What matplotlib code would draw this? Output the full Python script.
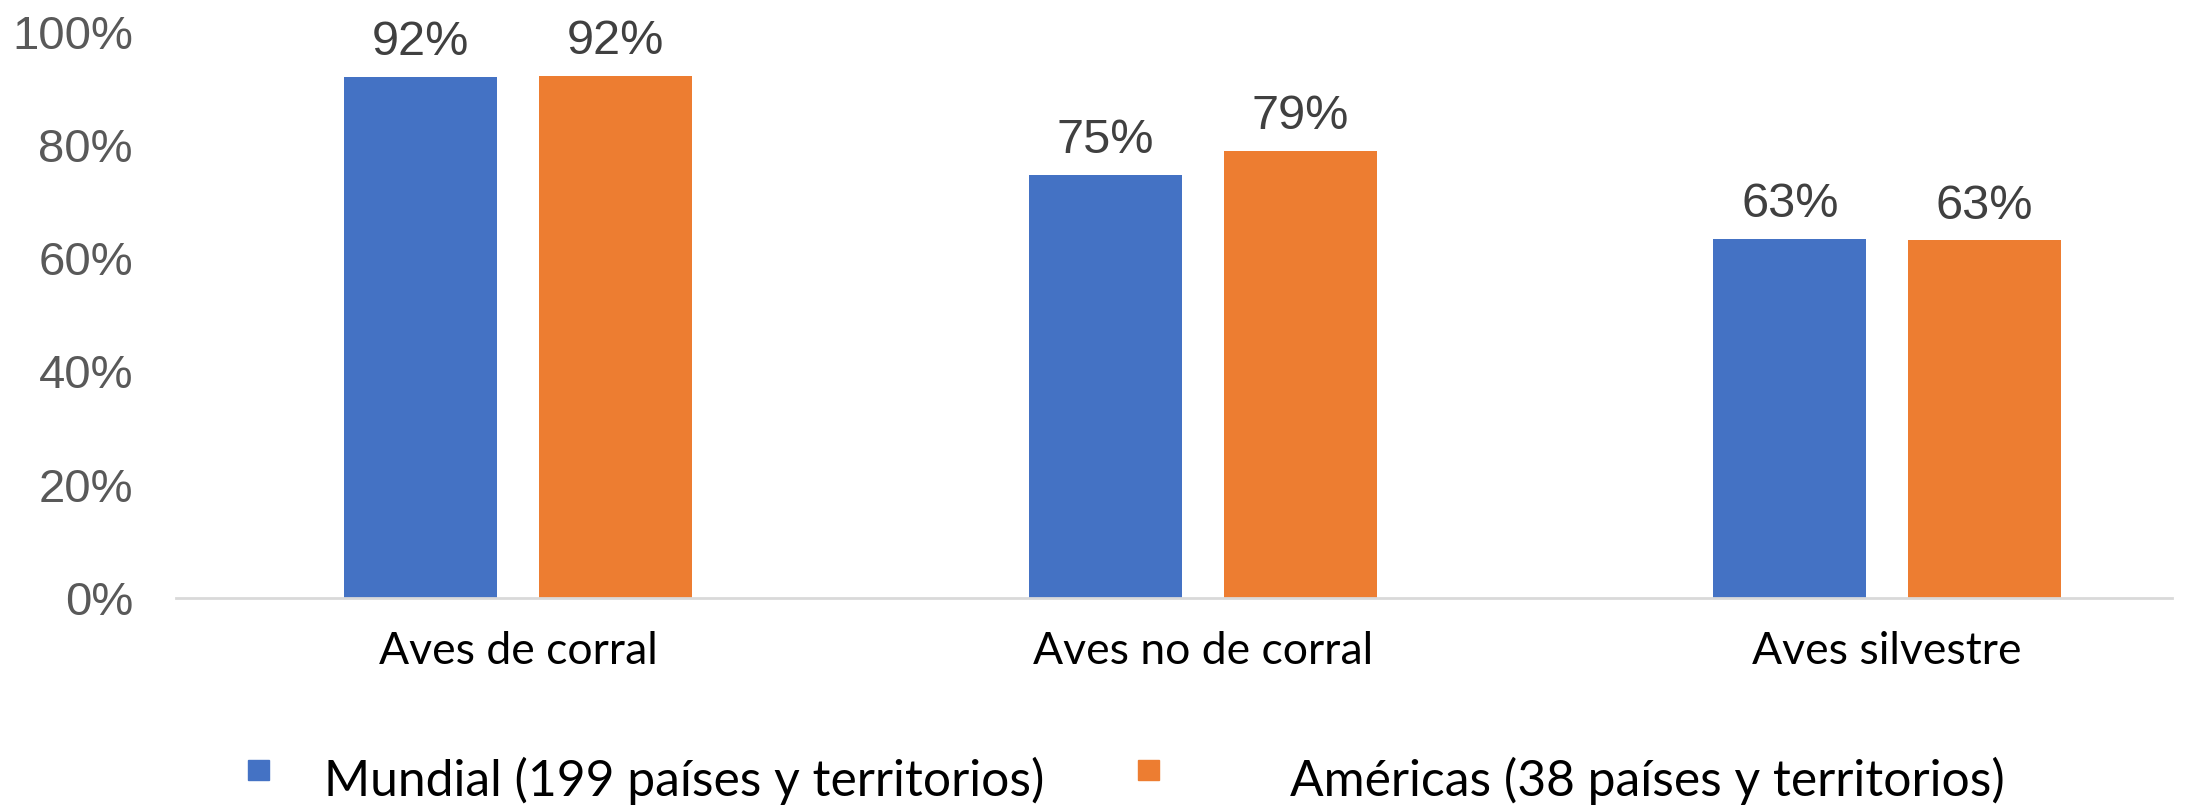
import matplotlib
matplotlib.use("Agg")
import matplotlib.pyplot as plt
from matplotlib.patches import Rectangle
import numpy as np

categories = ["Aves de corral", "Aves no de corral", "Aves silvestre"]
series_names = ["Mundial (199 países y territorios)", "Américas (38 países y territorios)"]
mundial = [0.920, 0.747, 0.634]
americas = [0.922, 0.790, 0.632]
ytick_vals = [0, 0.2, 0.4, 0.6, 0.8, 1.0]
ytick_labels = ["0%", "20%", "40%", "60%", "80%", "100%"]
colors = ["#4472C4", "#ED7D31"]

W, H = 2211, 805
fig = plt.figure(figsize=(W / 100, H / 100), dpi=100)
ax = fig.add_axes([176 / W, (H - 598) / H, (2172 - 176) / W, (598 - 31.7) / H])

x = np.arange(len(categories))
bw = 0.2236
off = 0.1424
b1 = ax.bar(x - off, mundial, bw, color=colors[0], zorder=3)
b2 = ax.bar(x + off, americas, bw, color=colors[1], zorder=3)

for bars, vals in ((b1, mundial), (b2, americas)):
    for rect, v in zip(bars, vals):
        ax.annotate(f"{round(v * 100):.0f}%",
                    (rect.get_x() + rect.get_width() / 2, v),
                    xytext=(0, 15.5), textcoords="offset points",
                    ha="center", va="baseline",
                    fontsize=35, color="#404040", family="Liberation Sans")

ax.set_xlim(-0.5, 2.416)
ax.set_ylim(0, 1.0)
ax.set_yticks(ytick_vals)
ax.set_yticklabels(ytick_labels, fontsize=34, color="#595959", family="Liberation Sans")
ax.set_xticks(x)
ax.set_xticklabels(categories, fontsize=32, color="black", family="Lato")
ax.tick_params(axis="y", length=0, pad=31)
ax.tick_params(axis="x", length=0, pad=24)
for s in ("top", "right", "left"):
    ax.spines[s].set_visible(False)
ax.spines["bottom"].set_color("#D9D9D9")
ax.spines["bottom"].set_linewidth(2)
ax.spines["bottom"].set_zorder(4)

# legend (manual placement)
for (mx, tx), name, c in zip(((248, 324), (1138, 1290)), series_names, colors):
    fig.add_artist(Rectangle((mx / W, (H - 780) / H), 21 / W, 20 / H,
                             transform=fig.transFigure, color=c))
    fig.text(tx / W, (H - 781) / H, name, fontsize=35.8, family="Lato",
             color="black", ha="left", va="center")

fig.savefig("out.png", dpi=100)
